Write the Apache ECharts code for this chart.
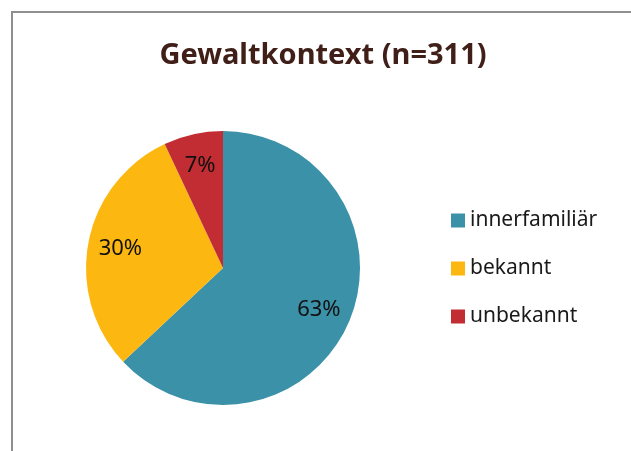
<!DOCTYPE html>
<html>
<head>
<meta charset="utf-8">
<script src="https://cdn.jsdelivr.net/npm/echarts@6/dist/echarts.min.js"></script>
<style>
html,body{margin:0;padding:0;background:#fff;}
#main{width:631px;height:451px;}
</style>
</head>
<body>
<div id="main"></div>
<script>
const titleText = 'Gewaltkontext (n=311)';
const categories = ['innerfamiliär', 'bekannt', 'unbekannt'];
const values = [63, 30, 7];
const colors = ['#3A91A8', '#FDB711', '#C12D32'];

const data = categories.map((c, i) => ({ name: c, value: values[i], itemStyle: { color: colors[i] } }));

const chart = echarts.init(document.getElementById('main'));
chart.setOption({
  animation: false,
  backgroundColor: '#ffffff',
  graphic: [{
    type: 'rect',
    shape: { x: 12, y: 12, width: 700, height: 500 },
    style: { fill: 'none', stroke: '#8f8f8f', lineWidth: 2 },
    silent: true
  }],
  title: {
    text: titleText,
    left: 318,
    textAlign: 'center',
    top: 36,
    textStyle: { fontFamily: 'Noto Sans', fontWeight: 'bold', fontSize: 29, color: '#3F1F17' }
  },
  legend: {
    orient: 'vertical',
    left: 446,
    top: 205,
    itemWidth: 14,
    itemHeight: 14,
    itemGap: 27,
    icon: 'rect',
    data: categories,
    textStyle: { fontFamily: 'Noto Sans', fontSize: 21, color: '#1a1a1a' }
  },
  series: [{
    type: 'pie',
    center: [223, 268],
    radius: [0, 137],
    startAngle: 90,
    clockwise: true,
    label: { show: false },
    labelLine: { show: false },
    data: data
  }, {
    type: 'pie',
    center: [223, 268],
    radius: [66, 137],
    startAngle: 90,
    clockwise: true,
    silent: true,
    itemStyle: { color: 'rgba(0,0,0,0)' },
    label: {
      show: true,
      position: 'inside',
      formatter: '{c}%',
      fontFamily: 'Noto Sans',
      fontSize: 22,
      color: '#111111'
    },
    labelLine: { show: false },
    data: categories.map((c, i) => ({ name: c, value: values[i], itemStyle: { color: 'rgba(0,0,0,0)' } }))
  }]
});
</script>
</body>
</html>
